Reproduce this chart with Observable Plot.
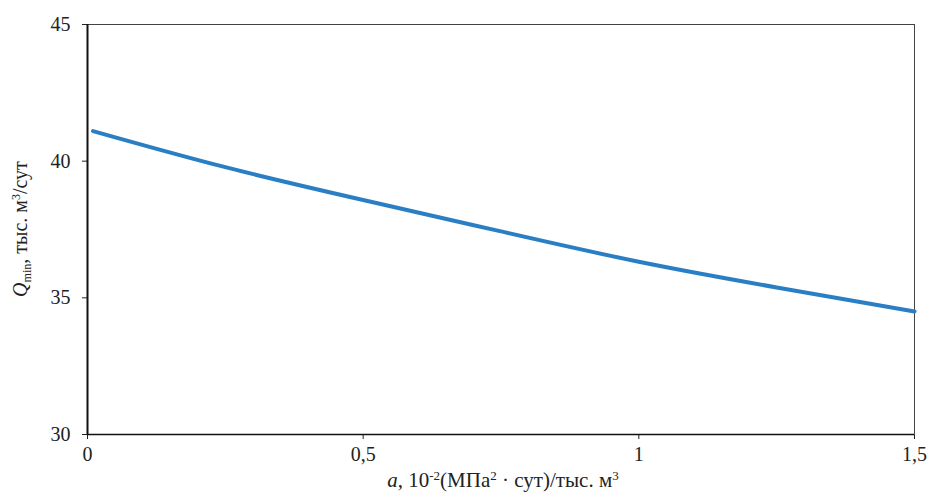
<!DOCTYPE html>
<html><head><meta charset="utf-8">
<script src="https://cdn.jsdelivr.net/npm/d3@7"></script>
<script src="https://cdn.jsdelivr.net/npm/@observablehq/plot@0.6"></script>
<style>
body{margin:0;background:#fff;}
svg, svg text, svg tspan, svg g{font-family:'Liberation Serif', 'Times New Roman', serif !important; font-variant: normal !important;}
</style></head><body>
<div id="chart"></div>
<script>
const aValues = [0.01, 0.25, 0.5, 0.75, 1, 1.25, 1.5];
const qValues = [41.1, 39.78, 38.58, 37.43, 36.32, 35.38, 34.5];
const xTicks = [0, 0.5, 1, 1.5];
const yTicks = [30, 35, 40, 45];

const data = aValues.map((a, i) => ({a, q: qValues[i]}));
const fmt = d => String(d).replace(".", ",");
const SERIF = "'Liberation Serif', 'Times New Roman', serif";

const W = 932, H = 493, mL = 87, mR = 18, mT = 24, mB = 59;
const plot = Plot.plot({
  width: W, height: H,
  marginLeft: mL, marginRight: mR, marginTop: mT, marginBottom: mB,
  style: {fontSize: "20px", color: "#222", background: "#fff"},
  x: {domain: [0, 1.5], ticks: xTicks, tickFormat: fmt, label: null, tickSize: 5, tickPadding: 7},
  y: {domain: [30, 45], ticks: yTicks, label: null, tickSize: 5, tickPadding: 12},
  marks: [
    Plot.frame({stroke: "#444", strokeWidth: 1}),
    Plot.ruleX([0], {stroke: "#111", strokeWidth: 2}),
    Plot.ruleY([30], {stroke: "#111", strokeWidth: 1.5}),
    Plot.line(data, {x: "a", y: "q", stroke: "#2a7fc4", strokeWidth: 4, curve: "natural"})
  ]
});
document.getElementById("chart").appendChild(plot);

const svg = d3.select(plot);
// y label
const yl = svg.append("text")
  .attr("transform", `translate(27,${(mT + H - mB) / 2}) rotate(-90)`)
  .attr("text-anchor", "middle")
  .attr("font-size", 20).attr("fill", "#222");
yl.append("tspan").attr("font-style", "italic").text("Q");
yl.append("tspan").attr("font-size", 12).attr("dy", 4).text("min");
yl.append("tspan").attr("dy", -4).text(", тыс. м");
yl.append("tspan").attr("font-size", 12).attr("dy", -7).text("3");
yl.append("tspan").attr("dy", 7).text("/сут");

// x label
const xl = svg.append("text")
  .attr("x", 503).attr("y", 487)
  .attr("text-anchor", "middle")
  .attr("font-size", 21).attr("fill", "#222");
xl.append("tspan").attr("font-style", "italic").text("a");
xl.append("tspan").text(", 10");
xl.append("tspan").attr("font-size", 13).attr("dy", -7).text("-2");
xl.append("tspan").attr("dy", 7).text("(МПа");
xl.append("tspan").attr("font-size", 13).attr("dy", -7).text("2");
xl.append("tspan").attr("dy", 7).text(" · сут)/тыс. м");
xl.append("tspan").attr("font-size", 13).attr("dy", -7).text("3");

svg.selectAll("g, text").attr("font-family", SERIF).attr("font-variant", null);
</script>
</body></html>
